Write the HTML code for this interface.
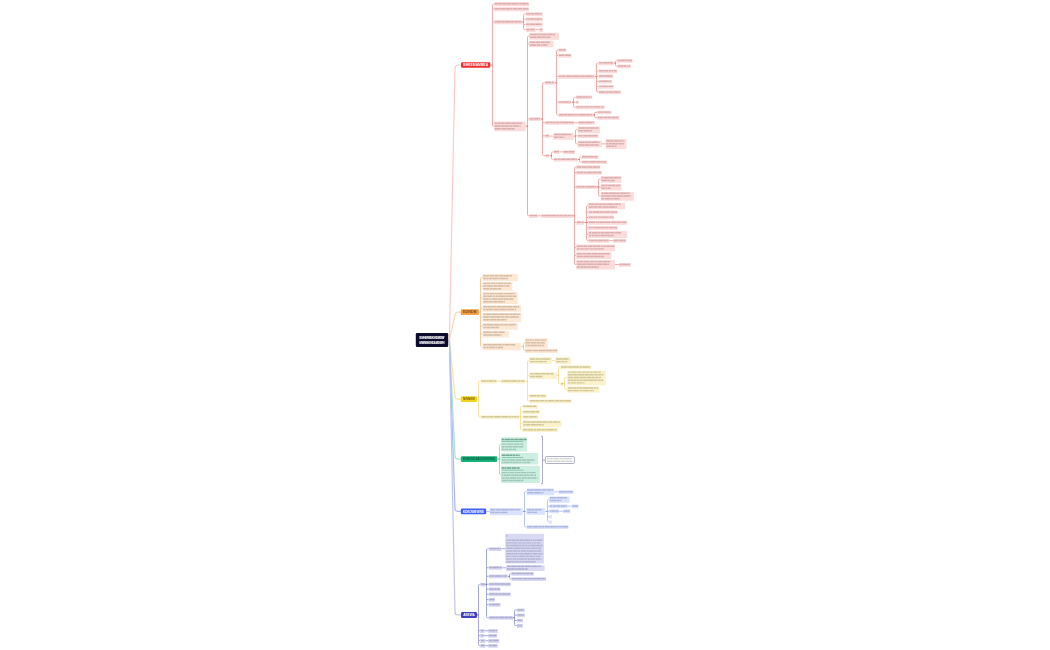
<!DOCTYPE html><html><head><meta charset="utf-8"><title>mindmap</title><style>html,body{margin:0;padding:0;background:#fff;}body{width:1050px;height:650px;overflow:hidden;font-family:"Liberation Sans",sans-serif;}svg{position:absolute;left:0;top:0;will-change:transform;}</style></head><body>
<svg width="1050" height="650" viewBox="0 0 1050 650" font-family="Liberation Sans">
<g fill="none" stroke-width="1.2" stroke-linecap="round"><path d="M449.4 340L455 68Q455 65 458 65H461" stroke="#ffc9c9"/><path d="M449.4 340L455 315.1Q455 312.1 458 312.1H460.8" stroke="#fbd7b8"/><path d="M449.4 340L455 396.1Q455 399.1 458 399.1H460.8" stroke="#f7e6a3"/><path d="M449.4 340L455 456.1Q455 459.1 458 459.1H460.8" stroke="#a9e6cf"/><path d="M449.4 340L455 508.4Q455 511.4 458 511.4H460.8" stroke="#a9b7fa"/><path d="M449.4 340L455 611.95Q455 614.95 458 614.95H461" stroke="#c3c3ec"/></g>
<path fill="none" stroke="#f8a8a8" stroke-width="1" d="M490.3 65H492.5M494.1 4H493.7Q492.5 4 492.5 5.2V65M492.5 65V124.95Q492.5 126.15 493.7 126.15H494M492.5 9.05H494.1M492.5 22H494.1M521.9 22H523.5M525.8 14.05H524.7Q523.5 14.05 523.5 15.25V22M523.5 22V28.4Q523.5 29.6 524.7 29.6H525.8M523.5 19.2H525.8M523.5 24.45H525.8M535.8 29.6H539.2M525.7 126.15H527.5M529.2 36H528.7Q527.5 36 527.5 37.2V126.15M527.5 126.15V214.6Q527.5 215.8 528.7 215.8H529M527.5 43.8H529.2M527.5 118.95H529.2M540.8 118.95H542.5M544.6 82.75H543.7Q542.5 82.75 542.5 83.95V118.95M542.5 118.95V154.45Q542.5 155.65 543.7 155.65H545M542.5 122.75H545M542.5 135.85H545M554.6 82.75H556.5M558.2 50H557.7Q556.5 50 556.5 51.2V82.75M556.5 82.75V113.75Q556.5 114.95 557.7 114.95H558.5M556.5 55.5H558.2M556.5 76.55H558.2M556.5 102.15H558.5M594.6 76.55H596.5M598.5 63.05H597.7Q596.5 63.05 596.5 64.25V76.55M596.5 76.55V90.95Q596.5 92.15 597.7 92.15H598.5M596.5 71.05H598.5M596.5 76.15H598.5M596.5 81.5H598.5M596.5 86.6H598.5M613.8 63.05H615.5M617.2 60.75H616.7Q615.5 60.75 615.5 61.95V63.05M615.5 63.05V64.95Q615.5 66.15 616.7 66.15H617.2M571.5 102.15H573.5M575.8 97.25H574.7Q573.5 97.25 573.5 98.45V102.15M573.5 102.15V105.9Q573.5 107.1 574.7 107.1H575.8M573.5 102.15H575.8M593 114.95H594.5M597 112.3H595.7Q594.5 112.3 594.5 113.5V114.95M594.5 114.95V116.5Q594.5 117.7 595.7 117.7H597M574.2 122.75H578M549.5 136.1H553.4M573.8 136.1H575.5M577.7 129.55H576.7Q575.5 129.55 575.5 130.75V136.1M575.5 136.1V142.7Q575.5 143.9 576.7 143.9H577.7M575.5 135.85H577.7M601.8 143.85H605.7M549.5 155.65H551.5M553.4 151.85H552.7Q551.5 151.85 551.5 153.05V155.65M551.5 155.65V158.3Q551.5 159.5 552.7 159.5H553.4M559.7 151.85H563M577.7 159.5H579.5M581.5 156.95H580.7Q579.5 156.95 579.5 158.15V159.5M579.5 159.5V160.8Q579.5 162 580.7 162H581.5M537.7 215.8H541.2M573 215.8H574.5M576 167.1H575.7Q574.5 167.1 574.5 168.3V215.8M574.5 215.8V263.3Q574.5 264.5 575.7 264.5H576.2M574.5 172.65H576M574.5 186.95H576M574.5 222.5H576.2M574.5 247.7H576.2M574.5 255.4H576.2M597 186.95H598.5M600.8 179.25H599.7Q598.5 179.25 598.5 180.45V186.95M598.5 186.95V194.95Q598.5 196.15 599.7 196.15H600.8M598.5 187.1H600.8M584.3 222.5H586.5M588.2 205.8H587.7Q586.5 205.8 586.5 207V222.5M586.5 222.5V239.45Q586.5 240.65 587.7 240.65H588.2M586.5 212.15H588.2M586.5 217.35H588.2M586.5 222.5H588.2M586.5 227.85H588.2M586.5 234.3H588.2M609.2 240.65H613M615 264.6H619"/>
<path fill="none" stroke="#f9c9a0" stroke-width="1" d="M478.9 312.1H480.5M482.6 277.3H481.7Q480.5 277.3 480.5 278.5V312.1M480.5 312.1V345.2Q480.5 346.4 481.7 346.4H482.6M480.5 286.3H482.6M480.5 297.85H482.6M480.5 308.25H482.6M480.5 317.25H482.6M480.5 326.25H482.6M480.5 333.9H482.6M521.2 346.4H523.5M525 343H524.7Q523.5 343 523.5 344.2V346.4M523.5 346.4V349.4Q523.5 350.6 524.7 350.6H525"/>
<path fill="none" stroke="#f6e39f" stroke-width="1" d="M477 399.1H478.5M480.8 381.25H479.7Q478.5 381.25 478.5 382.45V399.1M478.5 399.1V415.75Q478.5 416.95 479.7 416.95H480.8M497 381.25H501M525 381.25H527.5M529.2 360.45H528.7Q527.5 360.45 527.5 361.65V381.25M527.5 381.25V399.85Q527.5 401.05 528.7 401.05H529.2M527.5 375.4H529.2M527.5 395.85H529.2M551.8 360.45H555.4M556.5 375.4H558.5M560.3 367.1H559.7Q558.5 367.1 558.5 368.3V375.4M558.5 375.4V382.65Q558.5 383.85 559.7 383.85H560.3M563.8 383.85H564.5M567.2 377.7H565.7Q564.5 377.7 564.5 378.9V383.85M564.5 383.85V388.25Q564.5 389.45 565.7 389.45H567.2M519.2 416.95H520.5M522.6 406.5H521.7Q520.5 406.5 520.5 407.7V416.95M520.5 416.95V428.65Q520.5 429.85 521.7 429.85H522.6M520.5 411.85H522.6M520.5 416.95H522.6M520.5 423.5H522.6"/>
<path fill="none" stroke="#a2dfc7" stroke-width="1" d="M497.2 459.1H499.5M501 444.4H500.7Q499.5 444.4 499.5 445.6V459.1M499.5 459.1V473.25Q499.5 474.45 500.7 474.45H501M499.5 458.85H501"/>
<path fill="none" stroke="#b7c3fb" stroke-width="1" d="M486.2 511.4H489.7M522.6 511.4H524.5M526.5 491.55H525.7Q524.5 491.55 524.5 492.75V511.4M524.5 511.4V525.75Q524.5 526.95 525.7 526.95H526.5M524.5 511.25H526.5M554.2 491.85H558.5M545 511.25H547.5M549.2 499.4H548.7Q547.5 499.4 547.5 500.6V511.25M547.5 511.25V520.65Q547.5 521.85 548.7 521.85H549.2M547.5 506.15H549.2M547.5 511.25H549.2M547.5 516.6H549.2M567.7 506.15H571.8M559 511.25H563"/>
<path fill="none" stroke="#a5a5e0" stroke-width="1" d="M477 614.95H478.5M480.2 584.35H479.7Q478.5 584.35 478.5 585.55V614.95M478.5 614.95V644.5Q478.5 645.7 479.7 645.7H480.2M478.5 630.8H480.2M478.5 635.7H480.2M478.5 640.7H480.2M485.5 584.35H486.5M488.8 548.85H487.7Q486.5 548.85 486.5 550.05V584.35M486.5 584.35V616.5Q486.5 617.7 487.7 617.7H488.8M486.5 567.75H488.8M486.5 576.25H488.8M486.5 584.25H488.8M486.5 589.15H488.8M486.5 594.25H488.8M486.5 599.6H488.8M486.5 604.7H488.8M501.5 548.65H505.3M502.3 567.85H506.2M507.7 576.25H509.5M511.2 573.75H510.7Q509.5 573.75 509.5 574.95V576.25M509.5 576.25V577.65Q509.5 578.85 510.7 578.85H511.2M513 617.7H514.5M516.9 610H515.7Q514.5 610 514.5 611.2V617.7M514.5 617.7V624.4Q514.5 625.6 515.7 625.6H516.9M514.5 615.2H516.9M514.5 620.45H516.9M484.3 630.8H488.1M484.3 635.7H488.1M485.3 640.7H488.1M485.3 645.7H488.1"/>
<g fill="none" stroke="#8e8eb0" stroke-width="0.7"><path d="M541 436.3H542.5V483.6H541"/><path d="M542.5 460.2H545.2"/></g>
<rect x="461" y="62.3" width="29.3" height="5.4" rx="1.2" fill="#ef3030"/><text x="463.2" y="66.1" font-size="3.1" font-weight="bold" fill="#ffffff" opacity="1" textLength="24.9" lengthAdjust="spacingAndGlyphs">BHKEMAMBEA</text><rect x="494.1" y="2.1" width="34.9" height="4.25" rx="0.5" fill="#fcdbdb"/><path d="M494.7 3.07h2.68v1.45h-2.68zM497.71 3.07h3.8v1.45h-3.8zM501.88 3.07h4.53v1.45h-4.53zM506.73 3.07h4.61v1.45h-4.61zM511.92 3.07h4.97v1.45h-4.97zM517.36 3.07h1.84v1.45h-1.84zM519.68 3.07h1.77v1.45h-1.77zM521.82 3.07h4.56v1.45h-4.56zM526.72 3.07h1.68v1.45h-1.68z" fill="#8a4848" opacity="0.3"/><rect x="494.1" y="7.2" width="34.9" height="4.15" rx="0.5" fill="#fcdbdb"/><path d="M494.7 8.12h4.64v1.45h-4.64zM499.81 8.12h5.25v1.45h-5.25zM505.39 8.12h4.64v1.45h-4.64zM510.39 8.12h2.04v1.45h-2.04zM512.94 8.12h4.6v1.45h-4.6zM518.03 8.12h4.23v1.45h-4.23zM522.72 8.12h5.68v1.45h-5.68z" fill="#8a4848" opacity="0.3"/><rect x="494.1" y="20.1" width="27.8" height="4.25" rx="0.5" fill="#fcdbdb"/><path d="M494.7 21.07h6.58v1.45h-6.58zM501.69 21.07h2.87v1.45h-2.87zM504.91 21.07h5.79v1.45h-5.79zM511.02 21.07h3.15v1.45h-3.15zM514.62 21.07h3.39v1.45h-3.39zM518.44 21.07h2.86v1.45h-2.86z" fill="#8a4848" opacity="0.3"/><rect x="525.8" y="12.2" width="16.9" height="4.15" rx="0.5" fill="#fcdbdb"/><path d="M526.4 13.12h4.32v1.45h-4.32zM531.07 13.12h3.38v1.45h-3.38zM535.03 13.12h3.82v1.45h-3.82zM539.43 13.12h1.93v1.45h-1.93zM541.83 13.12h0.27v1.45h-0.27z" fill="#8a4848" opacity="0.3"/><rect x="525.8" y="17.4" width="16.9" height="4.05" rx="0.5" fill="#fcdbdb"/><path d="M526.4 18.27h3.37v1.45h-3.37zM530.18 18.27h4.23v1.45h-4.23zM534.95 18.27h1.88v1.45h-1.88zM537.15 18.27h2.98v1.45h-2.98zM540.65 18.27h1.45v1.45h-1.45z" fill="#8a4848" opacity="0.3"/><rect x="525.8" y="22.6" width="16.9" height="4.15" rx="0.5" fill="#fcdbdb"/><path d="M526.4 23.52h3.2v1.45h-3.2zM530.08 23.52h5.25v1.45h-5.25zM535.76 23.52h5.44v1.45h-5.44zM541.76 23.52h0.34v1.45h-0.34z" fill="#8a4848" opacity="0.3"/><rect x="525.8" y="27.7" width="10" height="4.25" rx="0.5" fill="#fcdbdb"/><path d="M526.4 28.68h3.46v1.45h-3.46zM530.34 28.68h4.22v1.45h-4.22zM534.92 28.68h0.28v1.45h-0.28z" fill="#8a4848" opacity="0.3"/><rect x="539.2" y="27.7" width="3.6" height="4.25" rx="0.5" fill="#fcdbdb"/><path d="M539.8 28.68h2.4v1.45h-2.4z" fill="#8a4848" opacity="0.3"/><rect x="494" y="121.4" width="31.7" height="9.95" rx="0.5" fill="#fcdbdb"/><path d="M494.6 122.53h2.42v1.45h-2.42zM497.44 122.53h3.03v1.45h-3.03zM500.8 122.53h3.87v1.45h-3.87zM505.14 122.53h5.39v1.45h-5.39zM511.12 122.53h5.25v1.45h-5.25zM516.79 122.53h2.77v1.45h-2.77zM519.88 122.53h2.33v1.45h-2.33z" fill="#8a4848" opacity="0.3"/><path d="M494.6 125.23h6.07v1.45h-6.07zM501.03 125.23h3.05v1.45h-3.05zM504.42 125.23h4.44v1.45h-4.44zM509.34 125.23h3.25v1.45h-3.25zM512.93 125.23h6.23v1.45h-6.23zM519.74 125.23h0.84v1.45h-0.84z" fill="#8a4848" opacity="0.3"/><path d="M494.6 127.93h6.29v1.45h-6.29zM501.48 127.93h5.24v1.45h-5.24zM507.19 127.93h3.69v1.45h-3.69zM511.29 127.93h3.3v1.45h-3.3z" fill="#8a4848" opacity="0.3"/><rect x="529.2" y="32.8" width="29.8" height="6.85" rx="0.5" fill="#fcdbdb"/><path d="M529.8 33.73h6.92v1.45h-6.92zM537.15 33.73h2.1v1.45h-2.1zM539.73 33.73h2.06v1.45h-2.06zM542.27 33.73h4.45v1.45h-4.45zM547.3 33.73h4.88v1.45h-4.88zM552.5 33.73h2.43v1.45h-2.43z" fill="#8a4848" opacity="0.3"/><path d="M529.8 36.43h6.76v1.45h-6.76zM537.04 36.43h4.11v1.45h-4.11zM541.48 36.43h4.18v1.45h-4.18zM546.26 36.43h4.14v1.45h-4.14z" fill="#8a4848" opacity="0.3"/><rect x="529.2" y="40.7" width="24.3" height="6.65" rx="0.5" fill="#fcdbdb"/><path d="M529.8 41.52h5.62v1.45h-5.62zM535.95 41.52h4.13v1.45h-4.13zM540.59 41.52h4.34v1.45h-4.34zM545.29 41.52h4.65v1.45h-4.65z" fill="#8a4848" opacity="0.3"/><path d="M529.8 44.23h6.53v1.45h-6.53zM536.86 44.23h3.14v1.45h-3.14zM540.49 44.23h2v1.45h-2zM543.04 44.23h4.33v1.45h-4.33z" fill="#8a4848" opacity="0.3"/><rect x="529.2" y="117.3" width="11.6" height="3.75" rx="0.5" fill="#fcdbdb"/><path d="M529.8 118.03h3.46v1.45h-3.46zM533.62 118.03h4.48v1.45h-4.48zM538.55 118.03h1.65v1.45h-1.65z" fill="#8a4848" opacity="0.3"/><rect x="544.6" y="81.1" width="10" height="3.75" rx="0.5" fill="#fcdbdb"/><path d="M545.2 81.83h5.84v1.45h-5.84zM551.56 81.83h2.44v1.45h-2.44z" fill="#8a4848" opacity="0.3"/><rect x="558.2" y="48.4" width="8.3" height="3.65" rx="0.5" fill="#fcdbdb"/><path d="M558.8 49.08h3.7v1.45h-3.7zM563.04 49.08h2.6v1.45h-2.6z" fill="#8a4848" opacity="0.3"/><rect x="558.2" y="53.7" width="13.3" height="4.05" rx="0.5" fill="#fcdbdb"/><path d="M558.8 54.58h5.52v1.45h-5.52zM564.92 54.58h5.85v1.45h-5.85z" fill="#8a4848" opacity="0.3"/><rect x="558.2" y="74.5" width="36.4" height="4.55" rx="0.5" fill="#fcdbdb"/><path d="M558.8 75.62h2.57v1.45h-2.57zM561.85 75.62h3.39v1.45h-3.39zM565.78 75.62h5.48v1.45h-5.48zM571.66 75.62h6.86v1.45h-6.86zM578.85 75.62h2.06v1.45h-2.06zM581.35 75.62h3.36v1.45h-3.36zM585.15 75.62h6.92v1.45h-6.92zM592.56 75.62h1.44v1.45h-1.44z" fill="#8a4848" opacity="0.3"/><rect x="598.5" y="61.4" width="15.3" height="3.75" rx="0.5" fill="#fcdbdb"/><path d="M599.1 62.12h3.39v1.45h-3.39zM602.98 62.12h6.09v1.45h-6.09zM609.41 62.12h3.64v1.45h-3.64z" fill="#8a4848" opacity="0.3"/><rect x="617.2" y="59.1" width="15.4" height="3.75" rx="0.5" fill="#fcdbdb"/><path d="M617.8 59.83h2.6v1.45h-2.6zM620.96 59.83h3.89v1.45h-3.89zM625.34 59.83h1.98v1.45h-1.98zM627.9 59.83h4.1v1.45h-4.1z" fill="#8a4848" opacity="0.3"/><rect x="617.2" y="64.5" width="13.6" height="3.75" rx="0.5" fill="#fcdbdb"/><path d="M617.8 65.22h5.59v1.45h-5.59zM623.71 65.22h2.37v1.45h-2.37zM626.69 65.22h1.65v1.45h-1.65zM628.81 65.22h1.39v1.45h-1.39z" fill="#8a4848" opacity="0.3"/><rect x="598.5" y="69.4" width="18.7" height="3.75" rx="0.5" fill="#fcdbdb"/><path d="M599.1 70.12h4.86v1.45h-4.86zM604.44 70.12h4.11v1.45h-4.11zM609.13 70.12h2.36v1.45h-2.36zM611.95 70.12h1.62v1.45h-1.62zM614.11 70.12h2.49v1.45h-2.49z" fill="#8a4848" opacity="0.3"/><rect x="598.5" y="74.5" width="15" height="3.75" rx="0.5" fill="#fcdbdb"/><path d="M599.1 75.22h5.62v1.45h-5.62zM605.06 75.22h6.93v1.45h-6.93zM612.35 75.22h0.55v1.45h-0.55z" fill="#8a4848" opacity="0.3"/><rect x="598.5" y="79.9" width="13.5" height="3.65" rx="0.5" fill="#fcdbdb"/><path d="M599.1 80.58h2.67v1.45h-2.67zM602.22 80.58h5.7v1.45h-5.7zM608.32 80.58h3.08v1.45h-3.08z" fill="#8a4848" opacity="0.3"/><rect x="598.5" y="84.9" width="15.3" height="3.85" rx="0.5" fill="#fcdbdb"/><path d="M599.1 85.67h1.83v1.45h-1.83zM601.46 85.67h6.44v1.45h-6.44zM608.39 85.67h4.81v1.45h-4.81z" fill="#8a4848" opacity="0.3"/><rect x="598.5" y="90.5" width="22.5" height="3.75" rx="0.5" fill="#fcdbdb"/><path d="M599.1 91.22h6.05v1.45h-6.05zM605.71 91.22h2.22v1.45h-2.22zM608.28 91.22h4.31v1.45h-4.31zM613.15 91.22h5.77v1.45h-5.77zM619.4 91.22h1v1.45h-1z" fill="#8a4848" opacity="0.3"/><rect x="558.5" y="100.7" width="13" height="3.35" rx="0.5" fill="#fcdbdb"/><path d="M559.1 101.22h2.28v1.45h-2.28zM561.86 101.22h2.16v1.45h-2.16zM564.34 101.22h5.25v1.45h-5.25zM570.06 101.22h0.84v1.45h-0.84z" fill="#8a4848" opacity="0.3"/><rect x="575.8" y="95.6" width="16.5" height="3.75" rx="0.5" fill="#fcdbdb"/><path d="M576.4 96.33h6.36v1.45h-6.36zM583.07 96.33h2.55v1.45h-2.55zM585.94 96.33h2.04v1.45h-2.04zM588.41 96.33h1.65v1.45h-1.65zM590.63 96.33h1.07v1.45h-1.07z" fill="#8a4848" opacity="0.3"/><rect x="575.8" y="100.7" width="2.7" height="3.35" rx="0.5" fill="#fcdbdb"/><path d="M576.4 101.22h1.5v1.45h-1.5z" fill="#8a4848" opacity="0.3"/><rect x="575.8" y="105.5" width="28.8" height="3.65" rx="0.5" fill="#fcdbdb"/><path d="M576.4 106.17h2.6v1.45h-2.6zM579.38 106.17h4.29v1.45h-4.29zM584.22 106.17h4.29v1.45h-4.29zM588.88 106.17h4.38v1.45h-4.38zM593.82 106.17h6.6v1.45h-6.6zM601 106.17h3v1.45h-3z" fill="#8a4848" opacity="0.3"/><rect x="558.5" y="113.3" width="34.5" height="3.75" rx="0.5" fill="#fcdbdb"/><path d="M559.1 114.03h3.96v1.45h-3.96zM563.49 114.03h3.66v1.45h-3.66zM567.54 114.03h5.19v1.45h-5.19zM573.16 114.03h2.67v1.45h-2.67zM576.22 114.03h2.17v1.45h-2.17zM578.93 114.03h6.67v1.45h-6.67zM586.09 114.03h3.51v1.45h-3.51zM589.98 114.03h2.25v1.45h-2.25z" fill="#8a4848" opacity="0.3"/><rect x="597" y="110.7" width="14.5" height="3.65" rx="0.5" fill="#fcdbdb"/><path d="M597.6 111.38h5.61v1.45h-5.61zM603.53 111.38h6.37v1.45h-6.37zM610.25 111.38h0.65v1.45h-0.65z" fill="#8a4848" opacity="0.3"/><rect x="597" y="116.1" width="22.2" height="3.65" rx="0.5" fill="#fcdbdb"/><path d="M597.6 116.78h5.38v1.45h-5.38zM603.58 116.78h3.72v1.45h-3.72zM607.73 116.78h3.46v1.45h-3.46zM611.52 116.78h3.51v1.45h-3.51zM615.43 116.78h3.17v1.45h-3.17z" fill="#8a4848" opacity="0.3"/><rect x="545" y="121.1" width="29.2" height="3.75" rx="0.5" fill="#fcdbdb"/><path d="M545.6 121.83h3.61v1.45h-3.61zM549.67 121.83h3.12v1.45h-3.12zM553.38 121.83h2.12v1.45h-2.12zM556.08 121.83h2.76v1.45h-2.76zM559.4 121.83h1.96v1.45h-1.96zM561.74 121.83h6.48v1.45h-6.48zM568.58 121.83h5.02v1.45h-5.02z" fill="#8a4848" opacity="0.3"/><rect x="578" y="121.1" width="16.6" height="3.75" rx="0.5" fill="#fcdbdb"/><path d="M578.6 121.83h6.17v1.45h-6.17zM585.28 121.83h6.7v1.45h-6.7zM592.4 121.83h1.6v1.45h-1.6z" fill="#8a4848" opacity="0.3"/><rect x="545" y="134.2" width="4.5" height="3.75" rx="0.5" fill="#fcdbdb"/><path d="M545.6 134.93h3.3v1.45h-3.3z" fill="#8a4848" opacity="0.3"/><rect x="553.4" y="132.9" width="20.4" height="6.85" rx="0.5" fill="#fcdbdb"/><path d="M554 133.82h5.9v1.45h-5.9zM560.25 133.82h6.42v1.45h-6.42zM567.06 133.82h1.59v1.45h-1.59zM568.98 133.82h2.15v1.45h-2.15z" fill="#8a4848" opacity="0.3"/><path d="M554 136.53h2.95v1.45h-2.95zM557.29 136.53h1.56v1.45h-1.56zM559.45 136.53h3.8v1.45h-3.8zM563.83 136.53h0.74v1.45h-0.74z" fill="#8a4848" opacity="0.3"/><rect x="577.7" y="126.4" width="22.3" height="6.75" rx="0.5" fill="#fcdbdb"/><path d="M578.3 127.27h6.66v1.45h-6.66zM585.55 127.27h2.94v1.45h-2.94zM588.85 127.27h6.63v1.45h-6.63zM595.96 127.27h2.52v1.45h-2.52z" fill="#8a4848" opacity="0.3"/><path d="M578.3 129.97h5.2v1.45h-5.2zM583.88 129.97h5.92v1.45h-5.92zM590.4 129.97h1.63v1.45h-1.63z" fill="#8a4848" opacity="0.3"/><rect x="577.7" y="134.2" width="20.8" height="3.75" rx="0.5" fill="#fcdbdb"/><path d="M578.3 134.93h4.28v1.45h-4.28zM583.17 134.93h4.33v1.45h-4.33zM587.88 134.93h3.96v1.45h-3.96zM592.33 134.93h5.08v1.45h-5.08z" fill="#8a4848" opacity="0.3"/><rect x="577.7" y="140.7" width="24.1" height="6.85" rx="0.5" fill="#fcdbdb"/><path d="M578.3 141.62h6.39v1.45h-6.39zM585.28 141.62h3.19v1.45h-3.19zM588.84 141.62h2.76v1.45h-2.76zM591.96 141.62h6.35v1.45h-6.35zM598.83 141.62h0.81v1.45h-0.81z" fill="#8a4848" opacity="0.3"/><path d="M578.3 144.33h6.1v1.45h-6.1zM584.71 144.33h4.94v1.45h-4.94zM590.21 144.33h3.87v1.45h-3.87zM594.4 144.33h4.33v1.45h-4.33z" fill="#8a4848" opacity="0.3"/><rect x="605.7" y="139.1" width="20.8" height="9.95" rx="0.5" fill="#fcdbdb"/><path d="M606.3 140.22h6.84v1.45h-6.84zM613.62 140.22h5.31v1.45h-5.31zM619.24 140.22h2.52v1.45h-2.52zM622.14 140.22h1.52v1.45h-1.52zM624.07 140.22h0.38v1.45h-0.38z" fill="#8a4848" opacity="0.3"/><path d="M606.3 142.93h1.69v1.45h-1.69zM608.55 142.93h2.7v1.45h-2.7zM611.61 142.93h3.34v1.45h-3.34zM615.28 142.93h3.03v1.45h-3.03zM618.81 142.93h2.86v1.45h-2.86zM622.21 142.93h1.71v1.45h-1.71z" fill="#8a4848" opacity="0.3"/><path d="M606.3 145.62h4.73v1.45h-4.73zM611.45 145.62h3.15v1.45h-3.15zM615.08 145.62h1.31v1.45h-1.31z" fill="#8a4848" opacity="0.3"/><rect x="545" y="154.2" width="4.5" height="3.35" rx="0.5" fill="#fcdbdb"/><path d="M545.6 154.72h3.3v1.45h-3.3z" fill="#8a4848" opacity="0.3"/><rect x="553.4" y="150.2" width="6.3" height="3.75" rx="0.5" fill="#fcdbdb"/><path d="M554 150.93h5.1v1.45h-5.1z" fill="#8a4848" opacity="0.3"/><rect x="563" y="150.2" width="12" height="3.75" rx="0.5" fill="#fcdbdb"/><path d="M563.6 150.93h4.78v1.45h-4.78zM568.91 150.93h5.46v1.45h-5.46z" fill="#8a4848" opacity="0.3"/><rect x="553.4" y="157.9" width="24.3" height="3.65" rx="0.5" fill="#fcdbdb"/><path d="M554 158.57h3.06v1.45h-3.06zM557.55 158.57h2.3v1.45h-2.3zM560.39 158.57h5.43v1.45h-5.43zM566.28 158.57h3.86v1.45h-3.86zM570.65 158.57h4.28v1.45h-4.28zM575.5 158.57h1.6v1.45h-1.6z" fill="#8a4848" opacity="0.3"/><rect x="581.5" y="155.3" width="16.7" height="3.75" rx="0.5" fill="#fcdbdb"/><path d="M582.1 156.03h5.97v1.45h-5.97zM588.38 156.03h5.28v1.45h-5.28zM594.19 156.03h3.41v1.45h-3.41z" fill="#8a4848" opacity="0.3"/><rect x="581.5" y="160.4" width="25.7" height="3.65" rx="0.5" fill="#fcdbdb"/><path d="M582.1 161.07h5.04v1.45h-5.04zM587.46 161.07h1.73v1.45h-1.73zM589.68 161.07h6.78v1.45h-6.78zM596.87 161.07h3.98v1.45h-3.98zM601.17 161.07h1.6v1.45h-1.6zM603.23 161.07h2.85v1.45h-2.85z" fill="#8a4848" opacity="0.3"/><rect x="529" y="214.1" width="8.7" height="3.85" rx="0.5" fill="#fcdbdb"/><path d="M529.6 214.88h4.01v1.45h-4.01zM533.93 214.88h3.17v1.45h-3.17z" fill="#8a4848" opacity="0.3"/><rect x="541.2" y="214.1" width="31.8" height="3.85" rx="0.5" fill="#fcdbdb"/><path d="M541.8 214.88h2.01v1.45h-2.01zM544.26 214.88h5.6v1.45h-5.6zM550.31 214.88h5.95v1.45h-5.95zM556.81 214.88h2.79v1.45h-2.79zM560.13 214.88h2.77v1.45h-2.77zM563.39 214.88h4.03v1.45h-4.03zM567.98 214.88h1.92v1.45h-1.92zM570.47 214.88h1.93v1.45h-1.93z" fill="#8a4848" opacity="0.3"/><rect x="576" y="165.3" width="24.5" height="4.05" rx="0.5" fill="#fcdbdb"/><path d="M576.6 166.18h4.98v1.45h-4.98zM581.94 166.18h4.8v1.45h-4.8zM587.14 166.18h5.08v1.45h-5.08zM592.73 166.18h4.92v1.45h-4.92zM597.99 166.18h1.91v1.45h-1.91z" fill="#8a4848" opacity="0.3"/><rect x="576" y="170.9" width="26" height="3.95" rx="0.5" fill="#fcdbdb"/><path d="M576.6 171.72h6.85v1.45h-6.85zM583.78 171.72h2.7v1.45h-2.7zM586.92 171.72h5.4v1.45h-5.4zM592.71 171.72h4.06v1.45h-4.06zM597.3 171.72h4.1v1.45h-4.1z" fill="#8a4848" opacity="0.3"/><rect x="576" y="185.3" width="21" height="3.75" rx="0.5" fill="#fcdbdb"/><path d="M576.6 186.03h3.21v1.45h-3.21zM580.14 186.03h4.1v1.45h-4.1zM584.63 186.03h1.92v1.45h-1.92zM587 186.03h6.97v1.45h-6.97zM594.57 186.03h1.83v1.45h-1.83z" fill="#8a4848" opacity="0.3"/><rect x="600.8" y="176.1" width="20.7" height="6.75" rx="0.5" fill="#fcdbdb"/><path d="M601.4 176.97h1.91v1.45h-1.91zM603.64 176.97h5.61v1.45h-5.61zM609.63 176.97h3.48v1.45h-3.48zM613.59 176.97h4.97v1.45h-4.97zM618.94 176.97h1.75v1.45h-1.75z" fill="#8a4848" opacity="0.3"/><path d="M601.4 179.68h6.32v1.45h-6.32zM608.14 179.68h2.37v1.45h-2.37zM611.1 179.68h3.45v1.45h-3.45z" fill="#8a4848" opacity="0.3"/><rect x="600.8" y="184.1" width="20.7" height="6.45" rx="0.5" fill="#fcdbdb"/><path d="M601.4 184.82h3.79v1.45h-3.79zM605.6 184.82h2.17v1.45h-2.17zM608.17 184.82h3.29v1.45h-3.29zM611.85 184.82h3.69v1.45h-3.69zM616.13 184.82h2.58v1.45h-2.58zM619.01 184.82h1.1v1.45h-1.1z" fill="#8a4848" opacity="0.3"/><path d="M601.4 187.53h3.65v1.45h-3.65zM605.61 187.53h1.92v1.45h-1.92zM608.1 187.53h2.64v1.45h-2.64z" fill="#8a4848" opacity="0.3"/><rect x="600.8" y="191.9" width="33" height="8.95" rx="0.5" fill="#fcdbdb"/><path d="M601.4 192.53h1.78v1.45h-1.78zM603.68 192.53h4.99v1.45h-4.99zM609.02 192.53h6.84v1.45h-6.84zM616.29 192.53h3.24v1.45h-3.24zM620.06 192.53h5.82v1.45h-5.82zM626.31 192.53h1.66v1.45h-1.66zM628.49 192.53h1.28v1.45h-1.28z" fill="#8a4848" opacity="0.3"/><path d="M601.4 195.23h2.62v1.45h-2.62zM604.34 195.23h6.63v1.45h-6.63zM611.4 195.23h4.88v1.45h-4.88zM616.62 195.23h6.28v1.45h-6.28zM623.35 195.23h6.52v1.45h-6.52zM630.33 195.23h0.74v1.45h-0.74z" fill="#8a4848" opacity="0.3"/><path d="M601.4 197.93h2.91v1.45h-2.91zM604.83 197.93h5.09v1.45h-5.09zM610.34 197.93h2.81v1.45h-2.81zM613.6 197.93h5.18v1.45h-5.18zM619.11 197.93h0.63v1.45h-0.63z" fill="#8a4848" opacity="0.3"/><rect x="576.2" y="220.7" width="8.1" height="4.05" rx="0.5" fill="#fcdbdb"/><path d="M576.8 221.57h4.25v1.45h-4.25zM581.6 221.57h2.1v1.45h-2.1z" fill="#8a4848" opacity="0.3"/><rect x="588.2" y="202.7" width="36.8" height="6.65" rx="0.5" fill="#fcdbdb"/><path d="M588.8 203.53h5.68v1.45h-5.68zM594.9 203.53h4.51v1.45h-4.51zM599.79 203.53h2.46v1.45h-2.46zM602.72 203.53h3.26v1.45h-3.26zM606.38 203.53h5.95v1.45h-5.95zM612.7 203.53h1.61v1.45h-1.61zM614.87 203.53h3.61v1.45h-3.61zM619 203.53h1.84v1.45h-1.84z" fill="#8a4848" opacity="0.3"/><path d="M588.8 206.23h4.24v1.45h-4.24zM593.51 206.23h3.48v1.45h-3.48zM597.5 206.23h4.41v1.45h-4.41zM602.45 206.23h6.17v1.45h-6.17zM608.94 206.23h6.43v1.45h-6.43zM615.79 206.23h1.08v1.45h-1.08z" fill="#8a4848" opacity="0.3"/><rect x="588.2" y="210.4" width="29.5" height="3.95" rx="0.5" fill="#fcdbdb"/><path d="M588.8 211.22h3.22v1.45h-3.22zM592.56 211.22h6.82v1.45h-6.82zM599.72 211.22h3.84v1.45h-3.84zM604.09 211.22h5.92v1.45h-5.92zM610.6 211.22h4.19v1.45h-4.19zM615.12 211.22h1.98v1.45h-1.98z" fill="#8a4848" opacity="0.3"/><rect x="588.2" y="215.6" width="26" height="3.95" rx="0.5" fill="#fcdbdb"/><path d="M588.8 216.42h4.4v1.45h-4.4zM593.64 216.42h3.97v1.45h-3.97zM598.15 216.42h2.73v1.45h-2.73zM601.22 216.42h6.85v1.45h-6.85zM608.4 216.42h5.2v1.45h-5.2z" fill="#8a4848" opacity="0.3"/><rect x="588.2" y="220.7" width="38.8" height="4.05" rx="0.5" fill="#fcdbdb"/><path d="M588.8 221.57h6.16v1.45h-6.16zM595.52 221.57h1.97v1.45h-1.97zM598.02 221.57h1.51v1.45h-1.51zM599.87 221.57h4.63v1.45h-4.63zM604.81 221.57h5.43v1.45h-5.43zM610.83 221.57h4.95v1.45h-4.95zM616.24 221.57h3.91v1.45h-3.91zM620.67 221.57h2.05v1.45h-2.05zM623.11 221.57h3.29v1.45h-3.29z" fill="#8a4848" opacity="0.3"/><rect x="588.2" y="226.1" width="29.5" height="3.95" rx="0.5" fill="#fcdbdb"/><path d="M588.8 226.92h2.93v1.45h-2.93zM592.27 226.92h1.51v1.45h-1.51zM594.24 226.92h6.98v1.45h-6.98zM601.6 226.92h3.24v1.45h-3.24zM605.4 226.92h2.83v1.45h-2.83zM608.69 226.92h4.51v1.45h-4.51zM613.5 226.92h3.6v1.45h-3.6z" fill="#8a4848" opacity="0.3"/><rect x="588.2" y="231.1" width="38.8" height="6.85" rx="0.5" fill="#fcdbdb"/><path d="M588.8 232.03h2.57v1.45h-2.57zM591.93 232.03h5.06v1.45h-5.06zM597.32 232.03h2.75v1.45h-2.75zM600.5 232.03h3.54v1.45h-3.54zM604.48 232.03h5.33v1.45h-5.33zM610.32 232.03h3.49v1.45h-3.49zM614.24 232.03h1.54v1.45h-1.54zM616.16 232.03h4.91v1.45h-4.91z" fill="#8a4848" opacity="0.3"/><path d="M588.8 234.73h2.6v1.45h-2.6zM591.93 234.73h2.57v1.45h-2.57zM594.94 234.73h2.96v1.45h-2.96zM598.46 234.73h2.1v1.45h-2.1zM601.05 234.73h4.86v1.45h-4.86zM606.47 234.73h4.17v1.45h-4.17zM611.21 234.73h1.81v1.45h-1.81zM613.5 234.73h0.6v1.45h-0.6z" fill="#8a4848" opacity="0.3"/><rect x="588.2" y="238.9" width="21" height="3.95" rx="0.5" fill="#fcdbdb"/><path d="M588.8 239.72h1.63v1.45h-1.63zM590.91 239.72h3.78v1.45h-3.78zM595.21 239.72h2.51v1.45h-2.51zM598.15 239.72h5.42v1.45h-5.42zM603.96 239.72h2.12v1.45h-2.12zM606.41 239.72h2.19v1.45h-2.19z" fill="#8a4848" opacity="0.3"/><rect x="613" y="238.9" width="13.2" height="3.95" rx="0.5" fill="#fcdbdb"/><path d="M613.6 239.72h5.09v1.45h-5.09zM619.15 239.72h4.07v1.45h-4.07zM623.61 239.72h1.99v1.45h-1.99z" fill="#8a4848" opacity="0.3"/><rect x="576.2" y="244.5" width="38.8" height="6.85" rx="0.5" fill="#fcdbdb"/><path d="M576.8 245.43h3.93v1.45h-3.93zM581.07 245.43h1.93v1.45h-1.93zM583.32 245.43h3.81v1.45h-3.81zM587.7 245.43h4.59v1.45h-4.59zM592.81 245.43h3.59v1.45h-3.59zM596.93 245.43h3.2v1.45h-3.2zM600.67 245.43h1.98v1.45h-1.98zM603.17 245.43h2.58v1.45h-2.58zM606.2 245.43h3.95v1.45h-3.95zM610.56 245.43h3.76v1.45h-3.76z" fill="#8a4848" opacity="0.3"/><path d="M576.8 248.13h2.86v1.45h-2.86zM580.15 248.13h3.73v1.45h-3.73zM584.29 248.13h4.05v1.45h-4.05zM588.88 248.13h1.84v1.45h-1.84zM591.08 248.13h1.85v1.45h-1.85zM593.41 248.13h3.5v1.45h-3.5zM597.31 248.13h6.75v1.45h-6.75z" fill="#8a4848" opacity="0.3"/><rect x="576.2" y="252.2" width="35.3" height="6.85" rx="0.5" fill="#fcdbdb"/><path d="M576.8 253.12h5.29v1.45h-5.29zM582.67 253.12h3.14v1.45h-3.14zM586.32 253.12h4.78v1.45h-4.78zM591.64 253.12h6.71v1.45h-6.71zM598.66 253.12h6.04v1.45h-6.04zM605.04 253.12h4.56v1.45h-4.56z" fill="#8a4848" opacity="0.3"/><path d="M576.8 255.83h5.84v1.45h-5.84zM583.22 255.83h5.98v1.45h-5.98zM589.54 255.83h4.23v1.45h-4.23zM594.07 255.83h6.62v1.45h-6.62zM601.08 255.83h2.97v1.45h-2.97z" fill="#8a4848" opacity="0.3"/><rect x="576.2" y="259.9" width="38.8" height="9.65" rx="0.5" fill="#fcdbdb"/><path d="M576.8 260.88h6.24v1.45h-6.24zM583.48 260.88h5.81v1.45h-5.81zM589.76 260.88h4.32v1.45h-4.32zM594.5 260.88h2.38v1.45h-2.38zM597.3 260.88h5.07v1.45h-5.07zM602.82 260.88h4.5v1.45h-4.5zM607.66 260.88h2.43v1.45h-2.43z" fill="#8a4848" opacity="0.3"/><path d="M576.8 263.57h4.94v1.45h-4.94zM582.1 263.57h3.82v1.45h-3.82zM586.51 263.57h6.85v1.45h-6.85zM593.71 263.57h2.23v1.45h-2.23zM596.38 263.57h6.4v1.45h-6.4zM603.15 263.57h4.46v1.45h-4.46zM608.14 263.57h1.02v1.45h-1.02z" fill="#8a4848" opacity="0.3"/><path d="M576.8 266.27h3.04v1.45h-3.04zM580.22 266.27h2.9v1.45h-2.9zM583.49 266.27h3.92v1.45h-3.92zM587.76 266.27h2.8v1.45h-2.8zM590.94 266.27h6.49v1.45h-6.49zM597.79 266.27h0.9v1.45h-0.9z" fill="#8a4848" opacity="0.3"/><rect x="619" y="262.9" width="11.8" height="3.85" rx="0.5" fill="#fcdbdb"/><path d="M619.6 263.68h2.85v1.45h-2.85zM622.91 263.68h5.07v1.45h-5.07zM628.31 263.68h1.89v1.45h-1.89z" fill="#8a4848" opacity="0.3"/>
<rect x="460.8" y="309.2" width="18.1" height="5.8" rx="1.2" fill="#f59e42"/><text x="463" y="313.2" font-size="3.1" font-weight="bold" fill="#5a3a1a" opacity="0.8" textLength="13.7" lengthAdjust="spacingAndGlyphs">EDNDB</text><rect x="482.6" y="274.1" width="35.1" height="6.85" rx="0.5" fill="#fce8d5"/><path d="M483.2 275.02h3.12v1.45h-3.12zM486.65 275.02h2.54v1.45h-2.54zM489.79 275.02h4.71v1.45h-4.71zM495.07 275.02h3.55v1.45h-3.55zM499.18 275.02h3.97v1.45h-3.97zM503.53 275.02h5.78v1.45h-5.78zM509.89 275.02h2.08v1.45h-2.08z" fill="#7a5a40" opacity="0.3"/><path d="M483.2 277.72h2.7v1.45h-2.7zM486.31 277.72h2.28v1.45h-2.28zM488.95 277.72h2.9v1.45h-2.9zM492.33 277.72h5.08v1.45h-5.08zM497.77 277.72h1.56v1.45h-1.56zM499.73 277.72h5.23v1.45h-5.23zM505.32 277.72h2.59v1.45h-2.59z" fill="#7a5a40" opacity="0.3"/><rect x="482.6" y="282.1" width="29.7" height="8.85" rx="0.5" fill="#fce8d5"/><path d="M483.2 282.67h4.51v1.45h-4.51zM488.03 282.67h2.06v1.45h-2.06zM490.51 282.67h4.53v1.45h-4.53zM495.53 282.67h2v1.45h-2zM497.88 282.67h5.32v1.45h-5.32zM503.63 282.67h3.06v1.45h-3.06zM507.08 282.67h3.75v1.45h-3.75z" fill="#7a5a40" opacity="0.3"/><path d="M483.2 285.37h3.46v1.45h-3.46zM487.09 285.37h6.25v1.45h-6.25zM493.94 285.37h3.5v1.45h-3.5zM497.8 285.37h5.5v1.45h-5.5zM503.67 285.37h1.53v1.45h-1.53zM505.77 285.37h3.83v1.45h-3.83z" fill="#7a5a40" opacity="0.3"/><path d="M483.2 288.07h6.36v1.45h-6.36zM489.99 288.07h2.39v1.45h-2.39zM492.69 288.07h4.53v1.45h-4.53zM497.72 288.07h3.52v1.45h-3.52z" fill="#7a5a40" opacity="0.3"/><rect x="482.6" y="292.1" width="35.1" height="11.95" rx="0.5" fill="#fce8d5"/><path d="M483.2 292.88h3.54v1.45h-3.54zM487.19 292.88h2.3v1.45h-2.3zM489.88 292.88h4.37v1.45h-4.37zM494.82 292.88h2.1v1.45h-2.1zM497.37 292.88h5.93v1.45h-5.93zM503.88 292.88h2.59v1.45h-2.59zM506.81 292.88h6.69v1.45h-6.69zM514.09 292.88h1.09v1.45h-1.09z" fill="#7a5a40" opacity="0.3"/><path d="M483.2 295.57h3.63v1.45h-3.63zM487.4 295.57h4.91v1.45h-4.91zM492.86 295.57h2.38v1.45h-2.38zM495.78 295.57h2.72v1.45h-2.72zM498.92 295.57h6.15v1.45h-6.15zM505.63 295.57h2.51v1.45h-2.51zM508.5 295.57h3.7v1.45h-3.7zM512.65 295.57h3.61v1.45h-3.61z" fill="#7a5a40" opacity="0.3"/><path d="M483.2 298.27h5.49v1.45h-5.49zM489.26 298.27h1.73v1.45h-1.73zM491.45 298.27h5.67v1.45h-5.67zM497.43 298.27h6.11v1.45h-6.11zM503.87 298.27h4.8v1.45h-4.8zM509.14 298.27h4.14v1.45h-4.14z" fill="#7a5a40" opacity="0.3"/><path d="M483.2 300.97h4.7v1.45h-4.7zM488.33 300.97h5.12v1.45h-5.12zM493.89 300.97h3.91v1.45h-3.91zM498.11 300.97h4.9v1.45h-4.9zM503.46 300.97h1.4v1.45h-1.4z" fill="#7a5a40" opacity="0.3"/><rect x="482.6" y="305.2" width="38.6" height="6.55" rx="0.5" fill="#fce8d5"/><path d="M483.2 305.98h4.02v1.45h-4.02zM487.57 305.98h4.1v1.45h-4.1zM492.01 305.98h2.21v1.45h-2.21zM494.64 305.98h2v1.45h-2zM497.08 305.98h4.31v1.45h-4.31zM501.7 305.98h5v1.45h-5zM507.03 305.98h5.53v1.45h-5.53zM513.09 305.98h4.31v1.45h-4.31zM517.72 305.98h1.64v1.45h-1.64z" fill="#7a5a40" opacity="0.3"/><path d="M483.2 308.68h2.25v1.45h-2.25zM486.01 308.68h6.98v1.45h-6.98zM493.5 308.68h5.98v1.45h-5.98zM499.85 308.68h6.9v1.45h-6.9zM507.19 308.68h6.76v1.45h-6.76zM514.53 308.68h1.5v1.45h-1.5z" fill="#7a5a40" opacity="0.3"/><rect x="482.6" y="312.9" width="38.6" height="9.15" rx="0.5" fill="#fce8d5"/><path d="M483.2 313.62h1.86v1.45h-1.86zM485.47 313.62h5.66v1.45h-5.66zM491.47 313.62h6.43v1.45h-6.43zM498.29 313.62h5.99v1.45h-5.99zM504.61 313.62h4.26v1.45h-4.26zM509.45 313.62h2.65v1.45h-2.65zM512.48 313.62h4.28v1.45h-4.28zM517.16 313.62h1.7v1.45h-1.7zM519.21 313.62h1v1.45h-1z" fill="#7a5a40" opacity="0.3"/><path d="M483.2 316.32h6.42v1.45h-6.42zM489.98 316.32h5.82v1.45h-5.82zM496.13 316.32h4.42v1.45h-4.42zM501.04 316.32h3.48v1.45h-3.48zM505.08 316.32h4.55v1.45h-4.55zM510.1 316.32h6.35v1.45h-6.35zM516.79 316.32h2.01v1.45h-2.01z" fill="#7a5a40" opacity="0.3"/><path d="M483.2 319.02h5.89v1.45h-5.89zM489.47 319.02h6.95v1.45h-6.95zM496.89 319.02h3.48v1.45h-3.48zM500.9 319.02h3.93v1.45h-3.93zM505.18 319.02h1.48v1.45h-1.48z" fill="#7a5a40" opacity="0.3"/><rect x="482.6" y="323.1" width="35.1" height="6.75" rx="0.5" fill="#fce8d5"/><path d="M483.2 323.98h2.9v1.45h-2.9zM486.59 323.98h6.91v1.45h-6.91zM493.97 323.98h5.15v1.45h-5.15zM499.52 323.98h1.51v1.45h-1.51zM501.34 323.98h2.32v1.45h-2.32zM504.15 323.98h3.88v1.45h-3.88zM508.48 323.98h6.43v1.45h-6.43zM515.24 323.98h0.94v1.45h-0.94z" fill="#7a5a40" opacity="0.3"/><path d="M483.2 326.68h1.51v1.45h-1.51zM485.12 326.68h2.08v1.45h-2.08zM487.61 326.68h2.73v1.45h-2.73zM490.82 326.68h4.74v1.45h-4.74zM495.92 326.68h2.87v1.45h-2.87z" fill="#7a5a40" opacity="0.3"/><rect x="482.6" y="330.7" width="26.2" height="6.85" rx="0.5" fill="#fce8d5"/><path d="M483.2 331.62h6.65v1.45h-6.65zM490.22 331.62h2.32v1.45h-2.32zM492.87 331.62h5.01v1.45h-5.01zM498.45 331.62h5.8v1.45h-5.8zM504.67 331.62h0.29v1.45h-0.29z" fill="#7a5a40" opacity="0.3"/><path d="M483.2 334.32h4.59v1.45h-4.59zM488.2 334.32h5.05v1.45h-5.05zM493.68 334.32h6.65v1.45h-6.65zM500.86 334.32h0.85v1.45h-0.85z" fill="#7a5a40" opacity="0.3"/><rect x="482.6" y="343.1" width="38.6" height="7.05" rx="0.5" fill="#fce8d5"/><path d="M483.2 344.12h4.42v1.45h-4.42zM488.05 344.12h2.81v1.45h-2.81zM491.17 344.12h5.78v1.45h-5.78zM497.26 344.12h4.53v1.45h-4.53zM502.37 344.12h2.28v1.45h-2.28zM505.01 344.12h4.84v1.45h-4.84zM510.31 344.12h4.93v1.45h-4.93z" fill="#7a5a40" opacity="0.3"/><path d="M483.2 346.82h3.2v1.45h-3.2zM486.79 346.82h1.77v1.45h-1.77zM489.13 346.82h5.81v1.45h-5.81zM495.45 346.82h1.53v1.45h-1.53zM497.53 346.82h5.43v1.45h-5.43z" fill="#7a5a40" opacity="0.3"/><rect x="525" y="338.3" width="22.7" height="9.85" rx="0.5" fill="#fce8d5"/><path d="M525.6 339.38h3.99v1.45h-3.99zM529.96 339.38h2.08v1.45h-2.08zM532.41 339.38h1.71v1.45h-1.71zM534.52 339.38h5.62v1.45h-5.62zM540.65 339.38h5.62v1.45h-5.62z" fill="#7a5a40" opacity="0.3"/><path d="M525.6 342.07h4.55v1.45h-4.55zM530.58 342.07h5.84v1.45h-5.84zM536.87 342.07h2.96v1.45h-2.96zM540.32 342.07h4.41v1.45h-4.41z" fill="#7a5a40" opacity="0.3"/><path d="M525.6 344.77h1.58v1.45h-1.58zM527.56 344.77h2.8v1.45h-2.8zM530.88 344.77h6.7v1.45h-6.7zM538.1 344.77h3.3v1.45h-3.3zM541.97 344.77h1.82v1.45h-1.82z" fill="#7a5a40" opacity="0.3"/><rect x="525" y="348.7" width="32.7" height="4.25" rx="0.5" fill="#fce8d5"/><path d="M525.6 349.68h6.49v1.45h-6.49zM532.58 349.68h5.31v1.45h-5.31zM538.39 349.68h6.88v1.45h-6.88zM545.72 349.68h6.12v1.45h-6.12zM552.34 349.68h4.76v1.45h-4.76z" fill="#7a5a40" opacity="0.3"/>
<rect x="460.8" y="396.2" width="16.2" height="5.8" rx="1.2" fill="#f4d41c"/><text x="463" y="400.2" font-size="3.1" font-weight="bold" fill="#5a4a10" opacity="0.8" textLength="11.8" lengthAdjust="spacingAndGlyphs">NWNKM</text><rect x="480.8" y="379.4" width="16.2" height="4.15" rx="0.5" fill="#fbf2cc"/><path d="M481.4 380.32h4.61v1.45h-4.61zM486.36 380.32h1.68v1.45h-1.68zM488.37 380.32h4.92v1.45h-4.92zM493.64 380.32h2.76v1.45h-2.76z" fill="#6f6330" opacity="0.3"/><rect x="501" y="379.4" width="24" height="4.15" rx="0.5" fill="#fbf2cc"/><path d="M501.6 380.32h1.67v1.45h-1.67zM503.61 380.32h5.04v1.45h-5.04zM508.96 380.32h1.87v1.45h-1.87zM511.15 380.32h6.21v1.45h-6.21zM517.89 380.32h2.6v1.45h-2.6zM521.07 380.32h3.33v1.45h-3.33z" fill="#6f6330" opacity="0.3"/><rect x="529.2" y="357.3" width="22.6" height="6.75" rx="0.5" fill="#fbf2cc"/><path d="M529.8 358.18h5.66v1.45h-5.66zM535.97 358.18h3.61v1.45h-3.61zM539.96 358.18h2.62v1.45h-2.62zM542.88 358.18h6.72v1.45h-6.72zM550.18 358.18h0.64v1.45h-0.64z" fill="#6f6330" opacity="0.3"/><path d="M529.8 360.88h4.98v1.45h-4.98zM535.22 360.88h2.23v1.45h-2.23zM537.99 360.88h5.05v1.45h-5.05zM543.43 360.88h3.24v1.45h-3.24z" fill="#6f6330" opacity="0.3"/><rect x="555.4" y="357.3" width="15.4" height="6.75" rx="0.5" fill="#fbf2cc"/><path d="M556 358.18h6.62v1.45h-6.62zM562.93 358.18h5.68v1.45h-5.68z" fill="#6f6330" opacity="0.3"/><path d="M556 360.88h4.81v1.45h-4.81zM561.25 360.88h3.08v1.45h-3.08zM564.86 360.88h2.45v1.45h-2.45z" fill="#6f6330" opacity="0.3"/><rect x="529.2" y="372.2" width="27.3" height="6.85" rx="0.5" fill="#fbf2cc"/><path d="M529.8 373.12h2.04v1.45h-2.04zM532.28 373.12h1.76v1.45h-1.76zM534.52 373.12h5.43v1.45h-5.43zM540.49 373.12h4.66v1.45h-4.66zM545.54 373.12h3.9v1.45h-3.9zM549.89 373.12h3.09v1.45h-3.09zM553.51 373.12h0.51v1.45h-0.51z" fill="#6f6330" opacity="0.3"/><path d="M529.8 375.82h5.32v1.45h-5.32zM535.67 375.82h6.82v1.45h-6.82z" fill="#6f6330" opacity="0.3"/><rect x="560.3" y="365.3" width="30.9" height="4.05" rx="0.5" fill="#fbf2cc"/><path d="M560.9 366.18h6.76v1.45h-6.76zM568.12 366.18h4.68v1.45h-4.68zM573.15 366.18h5.98v1.45h-5.98zM579.71 366.18h2.77v1.45h-2.77zM582.83 366.18h6.66v1.45h-6.66zM590.03 366.18h0.57v1.45h-0.57z" fill="#6f6330" opacity="0.3"/><rect x="560.3" y="382.2" width="3.5" height="3.75" rx="0.5" fill="#fbf2cc"/><path d="M560.9 382.93h2.3v1.45h-2.3z" fill="#6f6330" opacity="0.3"/><rect x="567.2" y="370.7" width="38.5" height="14.45" rx="0.5" fill="#fbf2cc"/><path d="M567.8 371.38h2.02v1.45h-2.02zM570.4 371.38h6.41v1.45h-6.41zM577.33 371.38h3.82v1.45h-3.82zM581.65 371.38h3.55v1.45h-3.55zM585.58 371.38h3.85v1.45h-3.85zM589.9 371.38h2.44v1.45h-2.44zM592.94 371.38h4.97v1.45h-4.97zM598.49 371.38h2.2v1.45h-2.2z" fill="#6f6330" opacity="0.3"/><path d="M567.8 374.07h4.83v1.45h-4.83zM572.94 374.07h4.7v1.45h-4.7zM578.09 374.07h6.27v1.45h-6.27zM584.8 374.07h4.55v1.45h-4.55zM589.75 374.07h4.05v1.45h-4.05zM594.3 374.07h2.91v1.45h-2.91zM597.58 374.07h3.34v1.45h-3.34zM601.41 374.07h1.95v1.45h-1.95z" fill="#6f6330" opacity="0.3"/><path d="M567.8 376.77h5.65v1.45h-5.65zM574 376.77h4.9v1.45h-4.9zM579.41 376.77h6.86v1.45h-6.86zM586.79 376.77h4.82v1.45h-4.82zM592.01 376.77h2.8v1.45h-2.8zM595.4 376.77h2.92v1.45h-2.92zM598.91 376.77h2.1v1.45h-2.1z" fill="#6f6330" opacity="0.3"/><path d="M567.8 379.47h2.57v1.45h-2.57zM570.72 379.47h2.32v1.45h-2.32zM573.43 379.47h3.14v1.45h-3.14zM576.94 379.47h2.1v1.45h-2.1zM579.62 379.47h3.04v1.45h-3.04zM583.23 379.47h4.05v1.45h-4.05zM587.58 379.47h6.2v1.45h-6.2zM594.21 379.47h2.72v1.45h-2.72zM597.53 379.47h3.13v1.45h-3.13zM600.97 379.47h2.22v1.45h-2.22z" fill="#6f6330" opacity="0.3"/><path d="M567.8 382.17h2.83v1.45h-2.83zM571.19 382.17h5.36v1.45h-5.36zM577.02 382.17h5.06v1.45h-5.06zM582.63 382.17h2.04v1.45h-2.04z" fill="#6f6330" opacity="0.3"/><rect x="567.2" y="386.5" width="32.3" height="6.35" rx="0.5" fill="#fbf2cc"/><path d="M567.8 387.18h5.03v1.45h-5.03zM573.3 387.18h2.76v1.45h-2.76zM576.42 387.18h2.18v1.45h-2.18zM579.03 387.18h2.93v1.45h-2.93zM582.47 387.18h6.42v1.45h-6.42zM589.26 387.18h3.7v1.45h-3.7zM593.48 387.18h2.36v1.45h-2.36zM596.39 387.18h1.94v1.45h-1.94z" fill="#6f6330" opacity="0.3"/><path d="M567.8 389.88h4.35v1.45h-4.35zM572.65 389.88h6.3v1.45h-6.3zM579.52 389.88h3.3v1.45h-3.3zM583.13 389.88h6.08v1.45h-6.08zM589.77 389.88h2.09v1.45h-2.09zM592.23 389.88h1.58v1.45h-1.58z" fill="#6f6330" opacity="0.3"/><rect x="529.2" y="394.2" width="17.4" height="3.75" rx="0.5" fill="#fbf2cc"/><path d="M529.8 394.93h6.73v1.45h-6.73zM536.89 394.93h3.42v1.45h-3.42zM540.86 394.93h4.01v1.45h-4.01zM545.24 394.93h0.76v1.45h-0.76z" fill="#6f6330" opacity="0.3"/><rect x="529.2" y="399.4" width="42.3" height="3.75" rx="0.5" fill="#fbf2cc"/><path d="M529.8 400.12h5.86v1.45h-5.86zM536.07 400.12h3.39v1.45h-3.39zM539.98 400.12h4.01v1.45h-4.01zM544.59 400.12h2.51v1.45h-2.51zM547.55 400.12h6.63v1.45h-6.63zM554.7 400.12h4.88v1.45h-4.88zM560.07 400.12h2.89v1.45h-2.89zM563.37 400.12h1.84v1.45h-1.84zM565.53 400.12h5.37v1.45h-5.37z" fill="#6f6330" opacity="0.3"/><rect x="480.8" y="415.3" width="38.4" height="3.75" rx="0.5" fill="#fbf2cc"/><path d="M481.4 416.02h5.21v1.45h-5.21zM487.09 416.02h2.1v1.45h-2.1zM489.58 416.02h3.7v1.45h-3.7zM493.87 416.02h6.84v1.45h-6.84zM501.31 416.02h6.78v1.45h-6.78zM508.53 416.02h2.4v1.45h-2.4zM511.52 416.02h1.88v1.45h-1.88zM513.93 416.02h2.56v1.45h-2.56zM516.99 416.02h1.61v1.45h-1.61z" fill="#6f6330" opacity="0.3"/><rect x="522.6" y="404.9" width="15.1" height="3.65" rx="0.5" fill="#fbf2cc"/><path d="M523.2 405.57h2.3v1.45h-2.3zM526 405.57h6.07v1.45h-6.07zM532.61 405.57h3.77v1.45h-3.77z" fill="#6f6330" opacity="0.3"/><rect x="522.6" y="410.2" width="17.1" height="3.75" rx="0.5" fill="#fbf2cc"/><path d="M523.2 410.93h5.68v1.45h-5.68zM529.37 410.93h5.79v1.45h-5.79zM535.6 410.93h3.5v1.45h-3.5z" fill="#6f6330" opacity="0.3"/><rect x="522.6" y="415.3" width="15.4" height="3.75" rx="0.5" fill="#fbf2cc"/><path d="M523.2 416.02h5.37v1.45h-5.37zM529.08 416.02h6.91v1.45h-6.91zM536.49 416.02h0.91v1.45h-0.91z" fill="#6f6330" opacity="0.3"/><rect x="522.6" y="420.4" width="38.9" height="6.65" rx="0.5" fill="#fbf2cc"/><path d="M523.2 421.23h3.47v1.45h-3.47zM527.17 421.23h3.26v1.45h-3.26zM530.87 421.23h4.93v1.45h-4.93zM536.13 421.23h6.43v1.45h-6.43zM542.91 421.23h3.17v1.45h-3.17zM546.49 421.23h1.97v1.45h-1.97zM548.93 421.23h3.29v1.45h-3.29zM552.8 421.23h4.42v1.45h-4.42zM557.62 421.23h2.14v1.45h-2.14z" fill="#6f6330" opacity="0.3"/><path d="M523.2 423.93h1.9v1.45h-1.9zM525.48 423.93h4.85v1.45h-4.85zM530.8 423.93h6.2v1.45h-6.2zM537.36 423.93h3.99v1.45h-3.99zM541.88 423.93h1.85v1.45h-1.85z" fill="#6f6330" opacity="0.3"/><rect x="522.6" y="428.1" width="35.1" height="3.95" rx="0.5" fill="#fbf2cc"/><path d="M523.2 428.93h4.44v1.45h-4.44zM528.12 428.93h5.28v1.45h-5.28zM534 428.93h2v1.45h-2zM536.57 428.93h4.52v1.45h-4.52zM541.58 428.93h3.13v1.45h-3.13zM545.16 428.93h2.67v1.45h-2.67zM548.15 428.93h6.12v1.45h-6.12zM554.77 428.93h2.14v1.45h-2.14z" fill="#6f6330" opacity="0.3"/>
<rect x="460.8" y="456.2" width="36.4" height="5.8" rx="1.2" fill="#15b27c"/><text x="463" y="460.2" font-size="3.1" font-weight="bold" fill="#0b4a33" opacity="0.8" textLength="32" lengthAdjust="spacingAndGlyphs">KNHDDAEDDHDND</text><rect x="501" y="437.3" width="26.1" height="14.2" rx="0.6" fill="#cdefe1"/><path d="M501.7 438.68h2.41v1.45h-2.41zM504.59 438.68h5.54v1.45h-5.54zM510.47 438.68h3.26v1.45h-3.26zM514.25 438.68h4.24v1.45h-4.24zM518.87 438.68h4.06v1.45h-4.06zM523.36 438.68h3.34v1.45h-3.34z" fill="#1d5e45" opacity="0.5"/><rect x="501.8" y="441.3" width="21.5" height="0.6" fill="#3f9c7c" opacity="0.8"/><path d="M501.7 443.38h3.48v1.45h-3.48zM505.68 443.38h1.61v1.45h-1.61zM507.6 443.38h5.55v1.45h-5.55zM513.75 443.38h5.95v1.45h-5.95zM520.03 443.38h3.33v1.45h-3.33z" fill="#3a6a58" opacity="0.3"/><path d="M501.7 446.02h2.67v1.45h-2.67zM504.8 446.02h2.2v1.45h-2.2zM507.32 446.02h5.12v1.45h-5.12zM512.85 446.02h5.78v1.45h-5.78zM519.1 446.02h4.13v1.45h-4.13z" fill="#3a6a58" opacity="0.3"/><path d="M501.7 448.68h2.88v1.45h-2.88zM504.9 448.68h3.09v1.45h-3.09zM508.4 448.68h4.22v1.45h-4.22zM513.01 448.68h3.18v1.45h-3.18z" fill="#3a6a58" opacity="0.3"/><rect x="501" y="453.1" width="37" height="11.5" rx="0.6" fill="#cdefe1"/><path d="M501.7 454.48h3.4v1.45h-3.4zM505.46 454.48h4.21v1.45h-4.21zM510 454.48h2.56v1.45h-2.56zM513.07 454.48h2.2v1.45h-2.2zM515.87 454.48h1.98v1.45h-1.98zM518.45 454.48h1.25v1.45h-1.25z" fill="#1d5e45" opacity="0.5"/><rect x="501.8" y="457.1" width="21.5" height="0.6" fill="#3f9c7c" opacity="0.8"/><path d="M501.7 459.18h4.66v1.45h-4.66zM506.78 459.18h2.1v1.45h-2.1zM509.19 459.18h6.02v1.45h-6.02zM515.65 459.18h5.71v1.45h-5.71zM521.68 459.18h4.25v1.45h-4.25zM526.4 459.18h3.57v1.45h-3.57zM530.31 459.18h3.82v1.45h-3.82z" fill="#3a6a58" opacity="0.3"/><path d="M501.7 461.82h1.96v1.45h-1.96zM503.97 461.82h4.98v1.45h-4.98zM509.44 461.82h2.46v1.45h-2.46zM512.4 461.82h6.28v1.45h-6.28zM519.1 461.82h2.05v1.45h-2.05zM521.74 461.82h1.57v1.45h-1.57zM523.87 461.82h2.26v1.45h-2.26zM526.53 461.82h3.67v1.45h-3.67z" fill="#3a6a58" opacity="0.3"/><rect x="501" y="465.8" width="38.9" height="17.3" rx="0.6" fill="#cdefe1"/><path d="M501.7 467.18h2.52v1.45h-2.52zM504.53 467.18h1.61v1.45h-1.61zM506.61 467.18h4.68v1.45h-4.68zM511.86 467.18h4.24v1.45h-4.24zM516.56 467.18h3.14v1.45h-3.14z" fill="#1d5e45" opacity="0.5"/><rect x="501.8" y="469.8" width="21.5" height="0.6" fill="#3f9c7c" opacity="0.8"/><path d="M501.7 471.88h5.33v1.45h-5.33zM507.45 471.88h1.87v1.45h-1.87zM509.82 471.88h4.77v1.45h-4.77zM515.19 471.88h5.13v1.45h-5.13zM520.66 471.88h5.73v1.45h-5.73zM526.86 471.88h1.96v1.45h-1.96zM529.26 471.88h6.43v1.45h-6.43z" fill="#3a6a58" opacity="0.3"/><path d="M501.7 474.52h1.55v1.45h-1.55zM503.75 474.52h6.93v1.45h-6.93zM511.24 474.52h2.7v1.45h-2.7zM514.27 474.52h4.1v1.45h-4.1zM518.75 474.52h4.63v1.45h-4.63zM523.82 474.52h5.59v1.45h-5.59zM529.99 474.52h3.51v1.45h-3.51zM534.02 474.52h1.95v1.45h-1.95z" fill="#3a6a58" opacity="0.3"/><path d="M501.7 477.18h3.11v1.45h-3.11zM505.28 477.18h4.24v1.45h-4.24zM510.02 477.18h6.4v1.45h-6.4zM516.99 477.18h1.79v1.45h-1.79zM519.09 477.18h1.83v1.45h-1.83zM521.49 477.18h5.28v1.45h-5.28zM527.25 477.18h3.64v1.45h-3.64zM531.28 477.18h4.8v1.45h-4.8zM536.67 477.18h1.18v1.45h-1.18z" fill="#3a6a58" opacity="0.3"/><path d="M501.7 479.82h6.72v1.45h-6.72zM508.94 479.82h4.08v1.45h-4.08zM513.37 479.82h6.81v1.45h-6.81zM520.52 479.82h2.8v1.45h-2.8z" fill="#3a6a58" opacity="0.3"/>
<rect x="460.8" y="508.5" width="25.4" height="5.8" rx="1.2" fill="#3f5ff6"/><text x="463" y="512.5" font-size="3.1" font-weight="bold" fill="#ffffff" opacity="1" textLength="21" lengthAdjust="spacingAndGlyphs">KDKDWBWWE</text><rect x="489.7" y="508.1" width="32.9" height="7.05" rx="0.5" fill="#dae2fd"/><path d="M490.3 509.12h5.08v1.45h-5.08zM495.92 509.12h4.8v1.45h-4.8zM501.28 509.12h5.49v1.45h-5.49zM507.08 509.12h2.33v1.45h-2.33zM509.96 509.12h4.72v1.45h-4.72zM515.27 509.12h2.85v1.45h-2.85zM518.54 509.12h1.67v1.45h-1.67z" fill="#44509a" opacity="0.3"/><path d="M490.3 511.82h3.98v1.45h-3.98zM494.79 511.82h3.27v1.45h-3.27zM498.44 511.82h2.37v1.45h-2.37zM501.38 511.82h5.7v1.45h-5.7zM507.61 511.82h0.3v1.45h-0.3z" fill="#44509a" opacity="0.3"/><rect x="526.5" y="488.4" width="27.7" height="6.75" rx="0.5" fill="#dae2fd"/><path d="M527.1 489.28h6.96v1.45h-6.96zM534.4 489.28h6.86v1.45h-6.86zM541.81 489.28h4.51v1.45h-4.51zM546.85 489.28h4.25v1.45h-4.25zM551.56 489.28h1.6v1.45h-1.6z" fill="#44509a" opacity="0.3"/><path d="M527.1 491.98h5.83v1.45h-5.83zM533.45 491.98h6.9v1.45h-6.9zM540.74 491.98h1.82v1.45h-1.82zM542.98 491.98h0.6v1.45h-0.6z" fill="#44509a" opacity="0.3"/><rect x="558.5" y="490.2" width="14.9" height="3.75" rx="0.5" fill="#dae2fd"/><path d="M559.1 490.93h4.73v1.45h-4.73zM564.13 490.93h3.62v1.45h-3.62zM568.21 490.93h4.45v1.45h-4.45z" fill="#44509a" opacity="0.3"/><rect x="526.5" y="508.1" width="18.5" height="6.75" rx="0.5" fill="#dae2fd"/><path d="M527.1 508.97h3.69v1.45h-3.69zM531.25 508.97h2.93v1.45h-2.93zM534.72 508.97h3.27v1.45h-3.27zM538.44 508.97h2.61v1.45h-2.61zM541.42 508.97h0.55v1.45h-0.55z" fill="#44509a" opacity="0.3"/><path d="M527.1 511.67h4.68v1.45h-4.68zM532.19 511.67h4.96v1.45h-4.96z" fill="#44509a" opacity="0.3"/><rect x="549.2" y="496.4" width="20.5" height="6.45" rx="0.5" fill="#dae2fd"/><path d="M549.8 497.12h6.57v1.45h-6.57zM556.82 497.12h6.27v1.45h-6.27zM563.5 497.12h3.42v1.45h-3.42z" fill="#44509a" opacity="0.3"/><path d="M549.8 499.82h1.67v1.45h-1.67zM551.85 499.82h4.84v1.45h-4.84zM557.02 499.82h2.63v1.45h-2.63zM560.21 499.82h1.02v1.45h-1.02z" fill="#44509a" opacity="0.3"/><rect x="549.2" y="504.5" width="18.5" height="3.75" rx="0.5" fill="#dae2fd"/><path d="M549.8 505.23h2.67v1.45h-2.67zM553.05 505.23h3.04v1.45h-3.04zM556.42 505.23h3.96v1.45h-3.96zM560.86 505.23h4.85v1.45h-4.85zM566.04 505.23h1.06v1.45h-1.06z" fill="#44509a" opacity="0.3"/><rect x="571.8" y="504.5" width="6.7" height="3.75" rx="0.5" fill="#dae2fd"/><path d="M572.4 505.23h5.5v1.45h-5.5z" fill="#44509a" opacity="0.3"/><rect x="549.2" y="509.6" width="9.8" height="3.75" rx="0.5" fill="#dae2fd"/><path d="M549.8 510.32h1.65v1.45h-1.65zM551.76 510.32h3.53v1.45h-3.53zM555.81 510.32h2.59v1.45h-2.59z" fill="#44509a" opacity="0.3"/><rect x="563" y="509.6" width="7.3" height="3.75" rx="0.5" fill="#dae2fd"/><path d="M563.6 510.32h6.1v1.45h-6.1z" fill="#44509a" opacity="0.3"/><rect x="549.2" y="514.9" width="2.6" height="3.85" rx="0.5" fill="#dae2fd"/><rect x="549.2" y="520.2" width="2.6" height="3.75" rx="0.5" fill="#dae2fd"/><rect x="526.5" y="525.3" width="42" height="3.75" rx="0.5" fill="#dae2fd"/><path d="M527.1 526.02h5.02v1.45h-5.02zM532.7 526.02h5.39v1.45h-5.39zM538.41 526.02h3.25v1.45h-3.25zM542.03 526.02h1.99v1.45h-1.99zM544.6 526.02h4.29v1.45h-4.29zM549.24 526.02h6.17v1.45h-6.17zM555.83 526.02h2.79v1.45h-2.79zM559.14 526.02h2.45v1.45h-2.45zM562.16 526.02h5.74v1.45h-5.74z" fill="#44509a" opacity="0.3"/>
<rect x="461" y="612" width="16" height="5.9" rx="1.2" fill="#4141bf"/><text x="463.2" y="616.05" font-size="3.1" font-weight="bold" fill="#ffffff" opacity="1" textLength="11.6" lengthAdjust="spacingAndGlyphs">AEEWA</text><rect x="480.2" y="582.7" width="5.3" height="3.75" rx="0.5" fill="#d9d9f3"/><path d="M480.8 583.42h4.1v1.45h-4.1z" fill="#4a4a80" opacity="0.3"/><rect x="488.8" y="547.2" width="12.7" height="3.75" rx="0.5" fill="#d9d9f3"/><path d="M489.4 547.92h6.92v1.45h-6.92zM496.64 547.92h2.3v1.45h-2.3zM499.46 547.92h1.44v1.45h-1.44z" fill="#4a4a80" opacity="0.3"/><rect x="505.3" y="533.8" width="38.6" height="29.7" rx="0.6" fill="#d9d9f3"/><path d="M506.2 535.17h1.6v1.45h-1.6z" fill="#4a4a80" opacity="0.3"/><path d="M506.1 539.47h2.08v1.45h-2.08zM508.58 539.47h2.91v1.45h-2.91zM511.83 539.47h4.15v1.45h-4.15zM516.33 539.47h2.81v1.45h-2.81zM519.48 539.47h5.23v1.45h-5.23zM525.01 539.47h5.44v1.45h-5.44zM530.81 539.47h1.7v1.45h-1.7zM533.09 539.47h2.71v1.45h-2.71zM536.38 539.47h6v1.45h-6z" fill="#4a4a80" opacity="0.25"/><path d="M506.1 542.17h3.96v1.45h-3.96zM510.39 542.17h6.61v1.45h-6.61zM517.55 542.17h4.96v1.45h-4.96zM522.94 542.17h3.37v1.45h-3.37zM526.86 542.17h4.13v1.45h-4.13zM531.47 542.17h2.29v1.45h-2.29zM534.12 542.17h1.81v1.45h-1.81zM536.45 542.17h4.1v1.45h-4.1z" fill="#4a4a80" opacity="0.25"/><path d="M506.1 544.87h2.97v1.45h-2.97zM509.49 544.87h2.36v1.45h-2.36zM512.23 544.87h6.12v1.45h-6.12zM518.74 544.87h2.42v1.45h-2.42zM521.61 544.87h3.25v1.45h-3.25zM525.43 544.87h2.13v1.45h-2.13zM528.16 544.87h1.81v1.45h-1.81zM530.54 544.87h5.18v1.45h-5.18zM536.08 544.87h4.13v1.45h-4.13zM540.59 544.87h2.13v1.45h-2.13z" fill="#4a4a80" opacity="0.25"/><path d="M506.1 547.57h6.95v1.45h-6.95zM513.65 547.57h6.59v1.45h-6.59zM520.57 547.57h3.09v1.45h-3.09zM524.23 547.57h1.82v1.45h-1.82zM526.56 547.57h3.11v1.45h-3.11zM530.27 547.57h1.59v1.45h-1.59zM532.4 547.57h3.37v1.45h-3.37zM536.12 547.57h1.51v1.45h-1.51zM538.18 547.57h3.04v1.45h-3.04z" fill="#4a4a80" opacity="0.25"/><path d="M506.1 550.27h6.52v1.45h-6.52zM512.98 550.27h4.64v1.45h-4.64zM517.97 550.27h2.49v1.45h-2.49zM520.99 550.27h5.41v1.45h-5.41zM526.76 550.27h1.94v1.45h-1.94zM529.02 550.27h4.85v1.45h-4.85zM534.32 550.27h3.01v1.45h-3.01zM537.69 550.27h3.74v1.45h-3.74z" fill="#4a4a80" opacity="0.25"/><path d="M506.1 552.97h4.71v1.45h-4.71zM511.17 552.97h1.86v1.45h-1.86zM513.55 552.97h3.74v1.45h-3.74zM517.81 552.97h1.8v1.45h-1.8zM520.16 552.97h3.34v1.45h-3.34zM524.05 552.97h6.25v1.45h-6.25zM530.76 552.97h1.58v1.45h-1.58zM532.91 552.97h4.12v1.45h-4.12zM537.6 552.97h2.96v1.45h-2.96zM540.92 552.97h1.63v1.45h-1.63z" fill="#4a4a80" opacity="0.25"/><path d="M506.1 555.67h3.54v1.45h-3.54zM510.12 555.67h1.53v1.45h-1.53zM512.1 555.67h3.95v1.45h-3.95zM516.51 555.67h2.16v1.45h-2.16zM519.19 555.67h5.99v1.45h-5.99zM525.74 555.67h3.27v1.45h-3.27zM529.52 555.67h3.6v1.45h-3.6zM533.64 555.67h1.84v1.45h-1.84zM536.04 555.67h4.59v1.45h-4.59z" fill="#4a4a80" opacity="0.25"/><path d="M506.1 558.37h4.42v1.45h-4.42zM510.98 558.37h1.61v1.45h-1.61zM513.18 558.37h2.73v1.45h-2.73zM516.27 558.37h2.06v1.45h-2.06zM518.71 558.37h5.99v1.45h-5.99zM525.01 558.37h2.03v1.45h-2.03zM527.55 558.37h2.57v1.45h-2.57zM530.43 558.37h4.8v1.45h-4.8zM535.7 558.37h4.38v1.45h-4.38zM540.59 558.37h1.07v1.45h-1.07z" fill="#4a4a80" opacity="0.25"/><path d="M506.1 561.07h5.44v1.45h-5.44zM511.86 561.07h2.18v1.45h-2.18zM514.48 561.07h4.25v1.45h-4.25zM519.12 561.07h2.17v1.45h-2.17zM521.71 561.07h2.25v1.45h-2.25zM524.44 561.07h6.24v1.45h-6.24zM531.02 561.07h4.65v1.45h-4.65z" fill="#4a4a80" opacity="0.25"/><rect x="488.8" y="566.1" width="13.5" height="3.75" rx="0.5" fill="#d9d9f3"/><path d="M489.4 566.83h2.4v1.45h-2.4zM492.35 566.83h6.66v1.45h-6.66zM499.42 566.83h2.28v1.45h-2.28z" fill="#4a4a80" opacity="0.3"/><rect x="506.2" y="565.2" width="38.4" height="5.75" rx="0.5" fill="#d9d9f3"/><path d="M506.8 565.57h3.68v1.45h-3.68zM511.06 565.57h5.77v1.45h-5.77zM517.23 565.57h2.82v1.45h-2.82zM520.46 565.57h3.9v1.45h-3.9zM524.95 565.57h5.92v1.45h-5.92zM531.44 565.57h5.98v1.45h-5.98zM537.98 565.57h1.79v1.45h-1.79zM540.23 565.57h1.12v1.45h-1.12z" fill="#4a4a80" opacity="0.3"/><path d="M506.8 568.27h3.82v1.45h-3.82zM511.11 568.27h3.5v1.45h-3.5zM515.08 568.27h1.88v1.45h-1.88zM517.39 568.27h4.28v1.45h-4.28zM521.97 568.27h2.27v1.45h-2.27zM524.83 568.27h2.89v1.45h-2.89z" fill="#4a4a80" opacity="0.3"/><rect x="488.8" y="574.6" width="18.9" height="3.75" rx="0.5" fill="#d9d9f3"/><path d="M489.4 575.33h4.98v1.45h-4.98zM494.93 575.33h6.36v1.45h-6.36zM501.85 575.33h1.69v1.45h-1.69zM504.04 575.33h2.96v1.45h-2.96z" fill="#4a4a80" opacity="0.3"/><rect x="511.2" y="572.1" width="22.6" height="3.75" rx="0.5" fill="#d9d9f3"/><path d="M511.8 572.83h3v1.45h-3zM515.27 572.83h6.58v1.45h-6.58zM522.34 572.83h2.88v1.45h-2.88zM525.67 572.83h3.89v1.45h-3.89zM530.14 572.83h3.06v1.45h-3.06z" fill="#4a4a80" opacity="0.3"/><rect x="511.2" y="577.2" width="35" height="3.75" rx="0.5" fill="#d9d9f3"/><path d="M511.8 577.92h5.06v1.45h-5.06zM517.2 577.92h4.77v1.45h-4.77zM522.55 577.92h4.33v1.45h-4.33zM527.26 577.92h4.07v1.45h-4.07zM531.78 577.92h2.32v1.45h-2.32zM534.44 577.92h2.22v1.45h-2.22zM537.05 577.92h3.74v1.45h-3.74zM541.17 577.92h2.84v1.45h-2.84zM544.34 577.92h1.26v1.45h-1.26z" fill="#4a4a80" opacity="0.3"/><rect x="488.8" y="582.6" width="22" height="3.75" rx="0.5" fill="#d9d9f3"/><path d="M489.4 583.33h4.85v1.45h-4.85zM494.73 583.33h5.08v1.45h-5.08zM500.16 583.33h5.41v1.45h-5.41zM506.01 583.33h4.19v1.45h-4.19z" fill="#4a4a80" opacity="0.3"/><rect x="488.8" y="587.5" width="11.7" height="3.75" rx="0.5" fill="#d9d9f3"/><path d="M489.4 588.23h4.08v1.45h-4.08zM493.87 588.23h2.83v1.45h-2.83zM497.07 588.23h2.83v1.45h-2.83z" fill="#4a4a80" opacity="0.3"/><rect x="488.8" y="592.6" width="22" height="3.75" rx="0.5" fill="#d9d9f3"/><path d="M489.4 593.33h4.72v1.45h-4.72zM494.42 593.33h3.44v1.45h-3.44zM498.42 593.33h2.81v1.45h-2.81zM501.7 593.33h4.2v1.45h-4.2zM506.29 593.33h3.91v1.45h-3.91z" fill="#4a4a80" opacity="0.3"/><rect x="488.8" y="597.9" width="6.2" height="3.85" rx="0.5" fill="#d9d9f3"/><path d="M489.4 598.68h5v1.45h-5z" fill="#4a4a80" opacity="0.3"/><rect x="488.8" y="603.1" width="11.7" height="3.65" rx="0.5" fill="#d9d9f3"/><path d="M489.4 603.78h1.87v1.45h-1.87zM491.83 603.78h3.92v1.45h-3.92zM496.07 603.78h3.63v1.45h-3.63z" fill="#4a4a80" opacity="0.3"/><rect x="488.8" y="616" width="24.2" height="3.85" rx="0.5" fill="#d9d9f3"/><path d="M489.4 616.77h5.54v1.45h-5.54zM495.28 616.77h2.74v1.45h-2.74zM498.6 616.77h5.56v1.45h-5.56zM504.51 616.77h3.35v1.45h-3.35zM508.27 616.77h4.13v1.45h-4.13z" fill="#4a4a80" opacity="0.3"/><rect x="516.9" y="608.4" width="7.9" height="3.65" rx="0.5" fill="#d9d9f3"/><path d="M517.5 609.08h6.17v1.45h-6.17z" fill="#4a4a80" opacity="0.3"/><rect x="516.9" y="613.5" width="7.9" height="3.85" rx="0.5" fill="#d9d9f3"/><path d="M517.5 614.27h4.35v1.45h-4.35zM522.37 614.27h1.83v1.45h-1.83z" fill="#4a4a80" opacity="0.3"/><rect x="516.9" y="618.8" width="6.1" height="3.75" rx="0.5" fill="#d9d9f3"/><path d="M517.5 619.52h4.11v1.45h-4.11zM522.15 619.52h0.25v1.45h-0.25z" fill="#4a4a80" opacity="0.3"/><rect x="516.9" y="623.9" width="6.1" height="3.85" rx="0.5" fill="#d9d9f3"/><path d="M517.5 624.68h2.2v1.45h-2.2zM520.26 624.68h1.52v1.45h-1.52z" fill="#4a4a80" opacity="0.3"/><rect x="480.2" y="629.1" width="4.1" height="3.85" rx="0.5" fill="#d9d9f3"/><path d="M480.8 629.88h2.9v1.45h-2.9z" fill="#4a4a80" opacity="0.3"/><rect x="488.1" y="629.1" width="9.7" height="3.85" rx="0.5" fill="#d9d9f3"/><path d="M488.7 629.88h6.8v1.45h-6.8zM495.97 629.88h1.23v1.45h-1.23z" fill="#4a4a80" opacity="0.3"/><rect x="480.2" y="634" width="4.1" height="3.85" rx="0.5" fill="#d9d9f3"/><path d="M480.8 634.77h2.9v1.45h-2.9z" fill="#4a4a80" opacity="0.3"/><rect x="488.1" y="634" width="9" height="3.85" rx="0.5" fill="#d9d9f3"/><path d="M488.7 634.77h3.59v1.45h-3.59zM492.72 634.77h3.78v1.45h-3.78z" fill="#4a4a80" opacity="0.3"/><rect x="480.2" y="638.9" width="5.1" height="4.05" rx="0.5" fill="#d9d9f3"/><path d="M480.8 639.77h3.11v1.45h-3.11zM484.33 639.77h0.37v1.45h-0.37z" fill="#4a4a80" opacity="0.3"/><rect x="488.1" y="638.9" width="11.1" height="4.05" rx="0.5" fill="#d9d9f3"/><path d="M488.7 639.77h3.27v1.45h-3.27zM492.51 639.77h6.09v1.45h-6.09z" fill="#4a4a80" opacity="0.3"/><rect x="480.2" y="644" width="5.1" height="3.85" rx="0.5" fill="#d9d9f3"/><path d="M480.8 644.77h3.9v1.45h-3.9z" fill="#4a4a80" opacity="0.3"/><rect x="488.1" y="644" width="9.7" height="3.85" rx="0.5" fill="#d9d9f3"/><path d="M488.7 644.77h3.17v1.45h-3.17zM492.22 644.77h4.66v1.45h-4.66z" fill="#4a4a80" opacity="0.3"/>
<ellipse cx="492.1" cy="65" rx="0.9" ry="0.6" fill="#ef3030" opacity="0.55"/><ellipse cx="523.1" cy="22" rx="0.9" ry="0.6" fill="#ef3030" opacity="0.55"/><ellipse cx="527.1" cy="126.15" rx="0.9" ry="0.6" fill="#ef3030" opacity="0.55"/><ellipse cx="542.1" cy="118.95" rx="0.9" ry="0.6" fill="#ef3030" opacity="0.55"/><ellipse cx="556.1" cy="82.75" rx="0.9" ry="0.6" fill="#ef3030" opacity="0.55"/><ellipse cx="596.1" cy="76.55" rx="0.9" ry="0.6" fill="#ef3030" opacity="0.55"/><ellipse cx="615.1" cy="63.05" rx="0.9" ry="0.6" fill="#ef3030" opacity="0.55"/><ellipse cx="573.1" cy="102.15" rx="0.9" ry="0.6" fill="#ef3030" opacity="0.55"/><ellipse cx="594.1" cy="114.95" rx="0.9" ry="0.6" fill="#ef3030" opacity="0.55"/><ellipse cx="575.1" cy="136.1" rx="0.9" ry="0.6" fill="#ef3030" opacity="0.55"/><ellipse cx="551.1" cy="155.65" rx="0.9" ry="0.6" fill="#ef3030" opacity="0.55"/><ellipse cx="579.1" cy="159.5" rx="0.9" ry="0.6" fill="#ef3030" opacity="0.55"/><ellipse cx="574.1" cy="215.8" rx="0.9" ry="0.6" fill="#ef3030" opacity="0.55"/><ellipse cx="598.1" cy="186.95" rx="0.9" ry="0.6" fill="#ef3030" opacity="0.55"/><ellipse cx="586.1" cy="222.5" rx="0.9" ry="0.6" fill="#ef3030" opacity="0.55"/><ellipse cx="480.1" cy="312.1" rx="0.9" ry="0.6" fill="#f59e42" opacity="0.55"/><ellipse cx="523.1" cy="346.4" rx="0.9" ry="0.6" fill="#f59e42" opacity="0.55"/><ellipse cx="478.1" cy="399.1" rx="0.9" ry="0.6" fill="#f4d41c" opacity="0.55"/><ellipse cx="527.1" cy="381.25" rx="0.9" ry="0.6" fill="#f4d41c" opacity="0.55"/><ellipse cx="558.1" cy="375.4" rx="0.9" ry="0.6" fill="#f4d41c" opacity="0.55"/><ellipse cx="564.1" cy="383.85" rx="0.9" ry="0.6" fill="#f4d41c" opacity="0.55"/><ellipse cx="520.1" cy="416.95" rx="0.9" ry="0.6" fill="#f4d41c" opacity="0.55"/><ellipse cx="499.1" cy="459.1" rx="0.9" ry="0.6" fill="#15b27c" opacity="0.55"/><ellipse cx="524.1" cy="511.4" rx="0.9" ry="0.6" fill="#3f5ff6" opacity="0.55"/><ellipse cx="547.1" cy="511.25" rx="0.9" ry="0.6" fill="#3f5ff6" opacity="0.55"/><ellipse cx="478.1" cy="614.95" rx="0.9" ry="0.6" fill="#4141bf" opacity="0.55"/><ellipse cx="486.1" cy="584.35" rx="0.9" ry="0.6" fill="#4141bf" opacity="0.55"/><ellipse cx="509.1" cy="576.25" rx="0.9" ry="0.6" fill="#4141bf" opacity="0.55"/><ellipse cx="514.1" cy="617.7" rx="0.9" ry="0.6" fill="#4141bf" opacity="0.55"/>
<rect x="545.4" y="456.5" width="29" height="7" rx="1.1" fill="#fff" stroke="#8b8baa" stroke-width="0.7"/>
<path d="M547 457.88h1.98v1.45h-1.98zM549.56 457.88h3.28v1.45h-3.28zM553.39 457.88h6.11v1.45h-6.11zM560.09 457.88h2.62v1.45h-2.62zM563.14 457.88h6.51v1.45h-6.51zM569.95 457.88h1.76v1.45h-1.76zM572.18 457.88h0.32v1.45h-0.32z" fill="#9a9ab0" opacity="0.45"/>
<path d="M547 460.47h5.75v1.45h-5.75zM553.22 460.47h6.99v1.45h-6.99zM560.66 460.47h4.34v1.45h-4.34zM565.51 460.47h3.64v1.45h-3.64zM569.56 460.47h2.94v1.45h-2.94z" fill="#9a9ab0" opacity="0.45"/>
<rect x="415.8" y="332.9" width="32.4" height="14.2" rx="1.3" fill="#0c0b2c"/>
<text x="419.6" y="338.6" font-size="3.9" font-weight="bold" fill="#ffffff" stroke="#ffffff" stroke-width="0.15" textLength="24.8" lengthAdjust="spacingAndGlyphs">EMHNWBKHEMDW</text>
<text x="419.6" y="344.1" font-size="3.9" font-weight="bold" fill="#ffffff" stroke="#ffffff" stroke-width="0.15" textLength="24.8" lengthAdjust="spacingAndGlyphs">MWNBKHEAMDWH</text>
</svg></body></html>
